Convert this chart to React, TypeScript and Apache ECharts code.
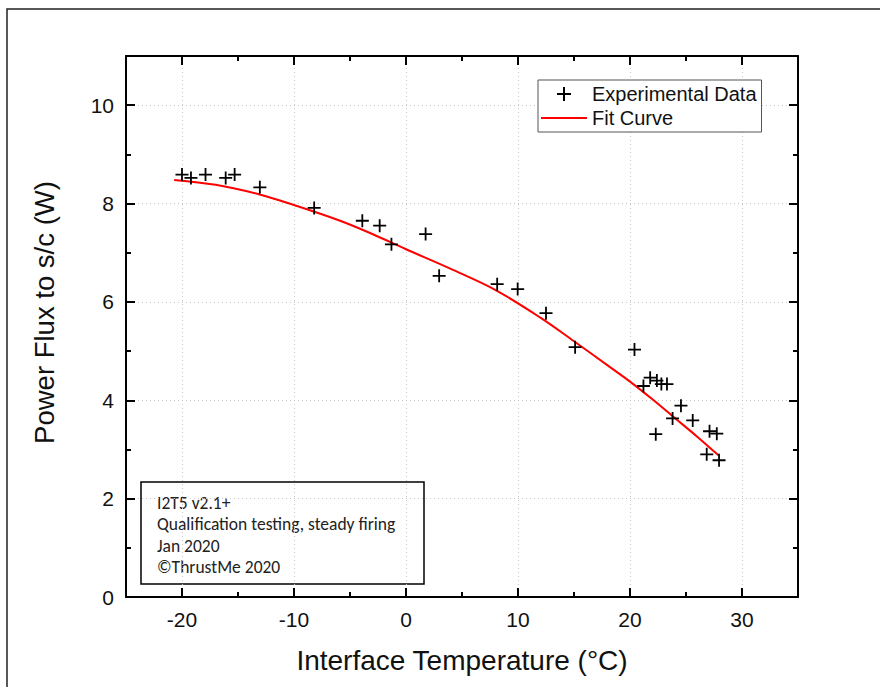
import React, { useEffect, useRef } from "react";
import * as echarts from "echarts";

const xMajor = [-20, -10, 0, 10, 20, 30];
const xMinor = [-15, -5, 5, 15, 25];
const yMajor = [0, 2, 4, 6, 8, 10];
const yMinor = [1, 3, 5, 7, 9];

const expX = [-20.0, -19.2, -17.9, -16.1, -15.3, -13.05, -8.2, -3.9, -2.35, -1.3, 1.75, 2.96, 8.14, 9.97, 12.5, 15.1, 20.4, 21.2, 21.8, 22.4, 22.8, 23.3, 24.55, 23.8, 25.6, 22.3, 27.1, 27.75, 26.85, 27.95];
const expY = [8.59, 8.52, 8.59, 8.52, 8.59, 8.33, 7.91, 7.65, 7.55, 7.17, 7.38, 6.53, 6.36, 6.26, 5.77, 5.08, 5.03, 4.29, 4.46, 4.40, 4.33, 4.33, 3.89, 3.63, 3.59, 3.31, 3.37, 3.32, 2.90, 2.78];

const fitX = [-20.7, -17, -13, -10, -6, -3, 0, 4, 8, 12, 15, 18, 20, 22, 24, 26, 27.9];
const fitY = [8.48, 8.38, 8.18, 7.97, 7.66, 7.38, 7.07, 6.67, 6.24, 5.68, 5.20, 4.71, 4.38, 4.02, 3.64, 3.26, 2.88];

const noteLines = ["I2T5 v2.1+", "Qualification testing, steady firing", "Jan 2020", "\u00A9ThrustMe 2020"];

const FONT = "'Liberation Sans', Arial, sans-serif";
const PLUS = "path://M7,0 L7,14 M0,7 L14,7";
const BAR = "path://M0,0 L46,0 L46,2 L0,2 Z";

export default function App() {
  const ref = useRef<HTMLDivElement>(null);
  useEffect(() => {
    if (!ref.current) return;
    const chart = echarts.init(ref.current, null, { renderer: "svg" });
    const xMin = -25, xMax = 35, yMin = 0, yMax = 11;
    const common = { min: xMin, max: xMax, type: "value" as const };
    const ycommon = { min: yMin, max: yMax, type: "value" as const };
    const line = { show: true, onZero: false, lineStyle: { color: "#000", width: 2 } };
    const noLine = { show: false, onZero: false };
    const tick = (vals: number[], len: number) => ({
      show: true, inside: true, length: len, customValues: vals, lineStyle: { color: "#000", width: 2 },
    });
    const option: any = {
      animation: false,
      backgroundColor: "#fff",
      grid: { left: 126, right: 82, top: 56, bottom: 90, outerBoundsMode: "none", containLabel: false },
      xAxis: [
        {
          ...common, position: "bottom",
          axisLine: line,
          axisTick: tick(xMajor, 9),
          axisLabel: { customValues: xMajor, margin: 12, fontSize: 21, fontFamily: FONT, color: "#111" },
          splitLine: { show: true, lineStyle: { color: "#c8c8c8", type: [1, 3], width: 1 } },
          name: "Interface Temperature (\u00B0C)", nameLocation: "middle", nameGap: 49,
          nameTextStyle: { fontSize: 28, fontFamily: FONT, color: "#111" },
        },
        {
          ...common, position: "bottom", axisLine: noLine,
          axisTick: tick(xMinor, 5),
          axisLabel: { show: false }, splitLine: { show: false },
        },
        {
          ...common, position: "top", axisLine: line,
          axisTick: tick(xMajor, 9),
          axisLabel: { show: false }, splitLine: { show: false },
        },
        {
          ...common, position: "top", axisLine: noLine,
          axisTick: tick(xMinor, 5),
          axisLabel: { show: false }, splitLine: { show: false },
        },
      ],
      yAxis: [
        {
          ...ycommon, position: "left",
          axisLine: line,
          axisTick: tick(yMajor, 9),
          axisLabel: { customValues: yMajor, margin: 12, fontSize: 21, fontFamily: FONT, color: "#111" },
          splitLine: { show: true, lineStyle: { color: "#c8c8c8", type: [1, 3], width: 1 } },
          name: "Power Flux to s/c (W)", nameLocation: "middle", nameGap: 68, nameRotate: 90,
          nameTextStyle: { fontSize: 27.5, fontFamily: FONT, color: "#111", padding: [0, 0, 0, 28] },
        },
        {
          ...ycommon, position: "left", axisLine: noLine,
          axisTick: tick(yMinor, 5),
          axisLabel: { show: false }, splitLine: { show: false },
        },
        {
          ...ycommon, position: "right", axisLine: line,
          axisTick: tick(yMajor, 9),
          axisLabel: { show: false }, splitLine: { show: false },
        },
        {
          ...ycommon, position: "right", axisLine: noLine,
          axisTick: tick(yMinor, 5),
          axisLabel: { show: false }, splitLine: { show: false },
        },
      ],
      legend: {
        orient: "vertical", left: 538, top: 80,
        padding: [4, 5, 4, 3], itemGap: 4, itemWidth: 46, itemHeight: 14,
        borderColor: "#555", borderWidth: 1, backgroundColor: "#fff",
        textStyle: { fontSize: 20, fontFamily: FONT, color: "#111" },
        data: [
          { name: "Experimental Data", icon: PLUS },
          { name: "Fit Curve", icon: BAR, itemStyle: { color: "#ff0000" } },
        ],
      },
      graphic: [
        {
          type: "rect", z: -10, silent: true,
          shape: { x: 7, y: 9, width: 1000, height: 1000 },
          style: { fill: "none", stroke: "#222", lineWidth: 1.5 },
        },
        {
          type: "group", z: 100,
          children: [
            { type: "rect", shape: { x: 141, y: 482, width: 283, height: 102 }, style: { fill: "#fff", stroke: "#000", lineWidth: 1.5 } },
            ...noteLines.map((t, i) => ({
              type: "text", x: 157, y: 503 + i * 21.3,
              style: { text: t, fill: "#222", font: "17.5px Carlito, Lato, sans-serif", textVerticalAlign: "middle", textAlign: "left" },
            })),
          ],
        },
      ],
      series: [
        {
          name: "Fit Curve", type: "line", xAxisIndex: 0, yAxisIndex: 0,
          data: fitX.map((x, i) => [x, fitY[i]]),
          smooth: 0.35, symbol: "none",
          lineStyle: { color: "#ff0000", width: 2 }, itemStyle: { color: "#ff0000" }, z: 2,
        },
        {
          name: "Experimental Data", type: "scatter", xAxisIndex: 0, yAxisIndex: 0,
          data: expX.map((x, i) => [x, expY[i]]),
          symbol: PLUS, symbolSize: 13,
          itemStyle: { color: "#000", borderColor: "#000", borderWidth: 1.8, opacity: 1 }, z: 3,
        },
      ],
    };
    chart.setOption(option);
    return () => chart.dispose();
  }, []);
  return <div ref={ref} style={{ position: "absolute", left: 0, top: 0, width: 880, height: 687 }} />;
}
